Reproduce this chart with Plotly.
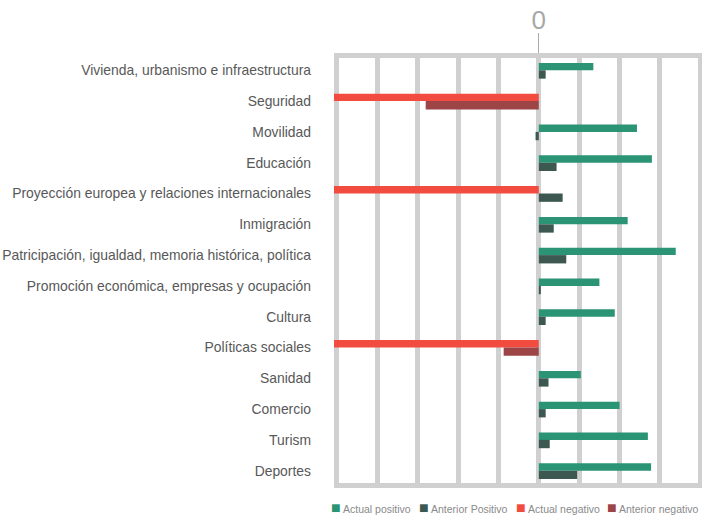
import plotly.graph_objects as go

categories = [
    "Vivienda, urbanismo e infraestructura",
    "Seguridad",
    "Movilidad",
    "Educación",
    "Proyección europea y relaciones internacionales",
    "Inmigración",
    "Patricipación, igualdad, memoria histórica, política",
    "Promoción económica, empresas y ocupación",
    "Cultura",
    "Políticas sociales",
    "Sanidad",
    "Comercio",
    "Turism",
    "Deportes",
]

actual_positivo = [1.35, None, 2.43, 2.8, None, 2.2, 3.39, 1.5, 1.88, None, 1.04, 2.0, 2.7, 2.78]
anterior_positivo = [0.17, None, -0.08, 0.44, 0.59, 0.37, 0.68, 0.05, 0.17, None, 0.24, 0.17, 0.27, 0.95]
actual_negativo = [None, -5.1, None, None, -5.1, None, None, None, None, -5.1, None, None, None, None]
anterior_negativo = [None, -2.8, None, None, None, None, None, None, None, -0.87, None, None, None, None]

series_names = ["Actual positivo", "Anterior Positivo", "Actual negativo", "Anterior negativo"]
series_values = [actual_positivo, anterior_positivo, actual_negativo, anterior_negativo]
series_colors = ["#2a9474", "#3c5850", "#f24c40", "#9c4446"]
series_offsets = [-0.24, 0.0, -0.24, 0.0]
legend_x = [-0.0136, 0.226, 0.489, 0.736]

fig = go.Figure()
for name, vals, color, off in zip(series_names, series_values, series_colors, series_offsets):
    fig.add_trace(go.Bar(
        y=categories, x=vals, name=name, orientation="h",
        marker=dict(color=color, line=dict(width=0)),
        offset=off, width=0.24 if off < 0 else 0.27,
        showlegend=False,
    ))

# legend drawn as text entries
for name, color, lx in zip(series_names, series_colors, legend_x):
    fig.add_annotation(
        xref="paper", yref="paper", x=lx, y=-0.057,
        xanchor="left", yanchor="middle", showarrow=False,
        text=f"<span style='color:{color};font-size:16px'>■</span> {name}",
        font=dict(size=10.5, color="#8a8a8a"),
    )

grid = "#d0d0d0"
fig.update_layout(
    width=702, height=521,
    margin=dict(l=334, r=0, t=58, b=38, autoexpand=False),
    paper_bgcolor="white", plot_bgcolor="white",
    barmode="overlay",
    font=dict(family="Liberation Sans, Arial, sans-serif", color="#555"),
    xaxis=dict(
        range=[-5.07, 4.04], side="top",
        tickmode="array", tickvals=[0], ticktext=["0"],
        ticks="outside", ticklen=20, tickwidth=1, tickcolor="#aaaaaa",
        ticklabelstandoff=-6,
        tickfont=dict(size=26, color="#a8a8a8"),
        showgrid=True, gridcolor=grid, gridwidth=5,
        minor=dict(tickmode="linear", tick0=0, dtick=1, showgrid=True,
                   gridcolor=grid, gridwidth=5, ticks=""),
        zeroline=False,
        showline=True, linecolor=grid, linewidth=5, mirror=True,
        fixedrange=True,
    ),
    yaxis=dict(
        categoryorder="array", categoryarray=categories,
        range=[13.4, -0.4],
        ticks="", ticklabelstandoff=22,
        tickfont=dict(size=13.9, color="#585858"),
        showgrid=False, zeroline=False, showline=False,
        fixedrange=True,
    ),
    showlegend=False,
)

fig.write_html(
    "out.html",
    config={"displayModeBar": False, "staticPlot": True},
    post_script="document.body.style.margin='0px';document.body.style.overflow='hidden';",
)
